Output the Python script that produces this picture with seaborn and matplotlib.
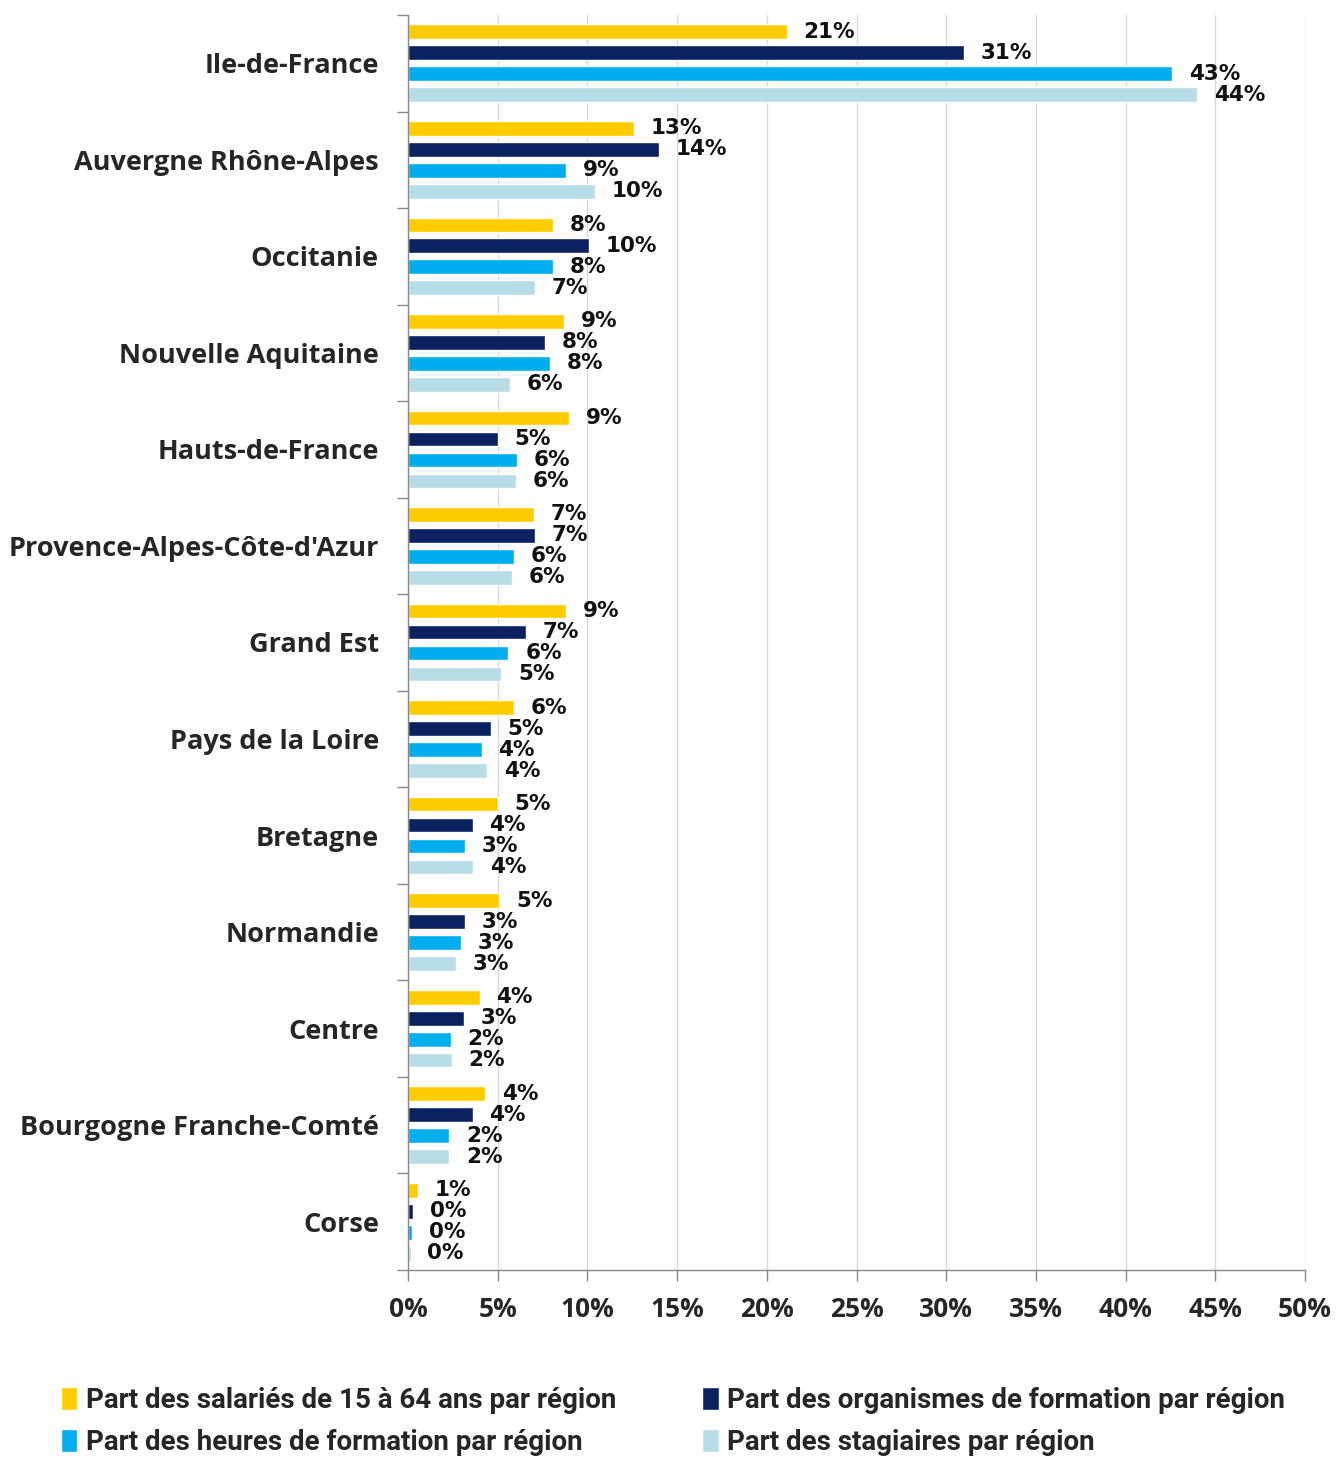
import numpy as np
import pandas as pd
import matplotlib
matplotlib.use('Agg')
import matplotlib.pyplot as plt
from matplotlib.ticker import FixedLocator
import seaborn as sns

# ── Data ──────────────────────────────────────────────────────────────────────
regions = ['Ile-de-France', 'Auvergne Rhône-Alpes', 'Occitanie', 'Nouvelle Aquitaine',
           'Hauts-de-France', "Provence-Alpes-Côte-d'Azur", 'Grand Est', 'Pays de la Loire',
           'Bretagne', 'Normandie', 'Centre', 'Bourgogne Franche-Comté', 'Corse']
series = ['Part des salariés de 15 à 64 ans par région',
          'Part des organismes de formation par région',
          'Part des heures de formation par région',
          'Part des stagiaires par région']

salaries   = [21.1, 12.6, 8.1, 8.7, 9.0, 7.0, 8.8, 5.9, 5.0, 5.1, 4.0, 4.3, 0.55]
organismes = [31.0, 14.0, 10.1, 7.65, 5.0, 7.1, 6.6, 4.6, 3.6, 3.2, 3.1, 3.6, 0.3]
heures     = [42.6, 8.8, 8.1, 7.9, 6.1, 5.9, 5.6, 4.1, 3.2, 2.95, 2.4, 2.3, 0.25]
stagiaires = [44.0, 10.4, 7.1, 5.7, 6.0, 5.8, 5.2, 4.4, 3.65, 2.7, 2.45, 2.3, 0.15]

x_ticks = [0, 5, 10, 15, 20, 25, 30, 35, 40, 45, 50]

colors = ['#FFCC00', '#0B2160', '#00AEEF', '#B7DDE8']

df = pd.DataFrame({
    'region': regions * 4,
    'serie': np.repeat(series, len(regions)),
    'value': salaries + organismes + heures + stagiaires,
})

# ── Plot ──────────────────────────────────────────────────────────────────────
sns.set_style('white')
plt.rcParams['font.family'] = ['Open Sans', 'DejaVu Sans']

fig = plt.figure(figsize=(13.36, 14.57), dpi=100)
ax = fig.add_axes([408 / 1336, 1 - 1270 / 1457, (1305 - 408) / 1336, (1270 - 15) / 1457])

sns.barplot(data=df, y='region', x='value', hue='serie', orient='h',
            order=regions, hue_order=series, palette=colors, saturation=1,
            width=0.87, gap=0.3, ax=ax, legend=True)

for cont in ax.containers:
    ax.bar_label(cont, fmt=lambda v: f'{v:.0f}%', padding=12,
                 fontsize=15.5, fontweight='bold', family='DejaVu Sans', color='#111111')

ax.set_xlim(0, 50)
ax.set_ylim(len(regions) - 0.5, -0.5)
ax.set_xticks(x_ticks)
ax.set_xticklabels([f'{t}%' for t in x_ticks], fontsize=19, fontweight='bold')
ax.set_yticks(range(len(regions)))
ax.set_yticklabels(regions, fontsize=19.5, fontweight='bold')
ax.yaxis.set_minor_locator(FixedLocator(np.arange(-0.5, len(regions), 1.0)))
ax.tick_params(axis='y', which='major', length=0, pad=21)
ax.tick_params(axis='y', which='minor', length=8, color='#888888', width=1, direction='out', left=True)
ax.tick_params(axis='x', length=8, color='#888888', width=1, direction='out', bottom=True, pad=11)
ax.set_xlabel('')
ax.set_ylabel('')

ax.grid(axis='x', color='#D9D9D9', linewidth=1)
ax.set_axisbelow(True)
for s in ['top', 'right']:
    ax.spines[s].set_visible(False)
for s in ['left', 'bottom']:
    ax.spines[s].set_color('#888888')
    ax.spines[s].set_linewidth(1)

# legend: row-wise order like the original (matplotlib fills by column)
handles, labels = ax.get_legend_handles_labels()
ax.get_legend().remove()
order = [0, 2, 1, 3]
fig.legend([handles[i] for i in order], [labels[i] for i in order],
           loc='upper left', bbox_to_anchor=(0.037, 0.056), ncol=2,
           frameon=False, handlelength=0.6, handleheight=0.9, handletextpad=0.3,
           columnspacing=3.1, labelspacing=0.55, borderaxespad=0,
           prop={'family': ['Roboto', 'DejaVu Sans'], 'weight': 'bold', 'size': 20})

fig.savefig('out.png', dpi=100, facecolor='white')
